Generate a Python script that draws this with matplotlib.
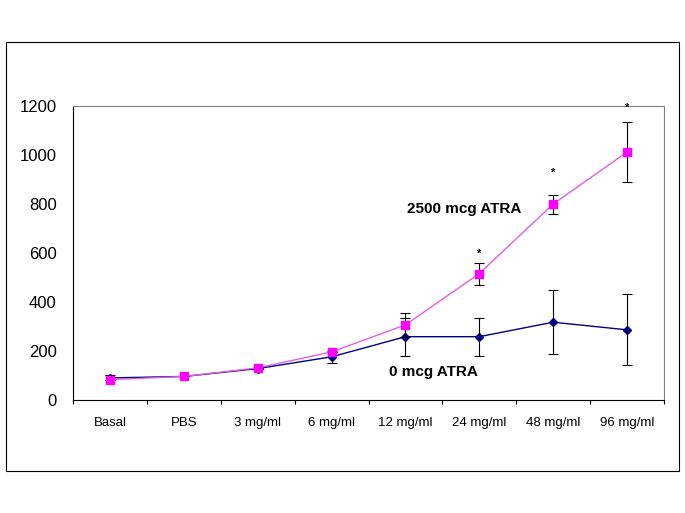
import matplotlib
matplotlib.use("Agg")
import matplotlib.pyplot as plt
from matplotlib.patches import Rectangle
import numpy as np

plt.rcParams['font.family'] = ['Liberation Sans', 'DejaVu Sans']

categories = ["Basal", "PBS", "3 mg/ml", "6 mg/ml", "12 mg/ml", "24 mg/ml", "48 mg/ml", "96 mg/ml"]
atra0 = [92, 98, 130, 178, 260, 260, 319, 288]
atra0_err = [10, 0, 0, 25, 78, 77, 130, 145]
atra2500 = [85, 98, 133, 198, 308, 517, 800, 1012]
atra2500_err = [0, 0, 0, 0, 48, 45, 39, 123]
star_idx = [5, 6, 7]
star_y = [596, 927, 1194]
yticks = [0, 200, 400, 600, 800, 1000, 1200]

fig = plt.figure(figsize=(6.85, 5.13), dpi=100)
fig.patches.append(Rectangle((0.0088, 0.082), 0.982, 0.836, transform=fig.transFigure,
                             fill=False, edgecolor='black', linewidth=0.8))
ax = fig.add_axes([0.107, 0.2193, 0.862, 0.5741])

x = np.arange(len(categories)) + 0.5

ax.errorbar(x, atra0, yerr=atra0_err, color='#000080', marker='D', markersize=4.5,
            linewidth=1.0, ecolor='black', elinewidth=0.8, capsize=3.5, capthick=0.8, zorder=3)
ax.errorbar(x, atra2500, yerr=atra2500_err, color='#E060E0', marker='s', markersize=6,
            markerfacecolor='#FF00FF', markeredgecolor='#FF00FF',
            linewidth=1.0, ecolor='black', elinewidth=0.8, capsize=3.5, capthick=0.8, zorder=4)

for i, yv in zip(star_idx, star_y):
    ax.text(x[i], yv, "*", ha='center', va='center', fontsize=8, fontweight='bold')

ax.text(5.29, 781, "2500 mcg ATRA", ha='center', va='center', fontsize=11, fontweight='bold')
ax.text(4.88, 115, "0 mcg ATRA", ha='center', va='center', fontsize=11, fontweight='bold')

ax.set_xlim(0, 8)
ax.set_ylim(0, 1200)
ax.set_yticks(yticks)
ax.set_yticklabels([str(v) for v in yticks], fontsize=12)
ax.tick_params(axis='y', length=0, pad=12)

ax.set_xticks(np.arange(0, 9))
ax.set_xticklabels([])
ax.tick_params(axis='x', which='major', direction='out', length=3, width=0.8)
ax.set_xticks(x, minor=True)
ax.set_xticklabels(categories, minor=True, fontsize=9.5)
ax.tick_params(axis='x', which='minor', length=0, pad=12)

for s in ['top', 'right']:
    ax.spines[s].set_color('#808080')
    ax.spines[s].set_linewidth(0.8)
for s in ['left', 'bottom']:
    ax.spines[s].set_color('black')
    ax.spines[s].set_linewidth(0.8)

fig.savefig("out.png", dpi=100)
